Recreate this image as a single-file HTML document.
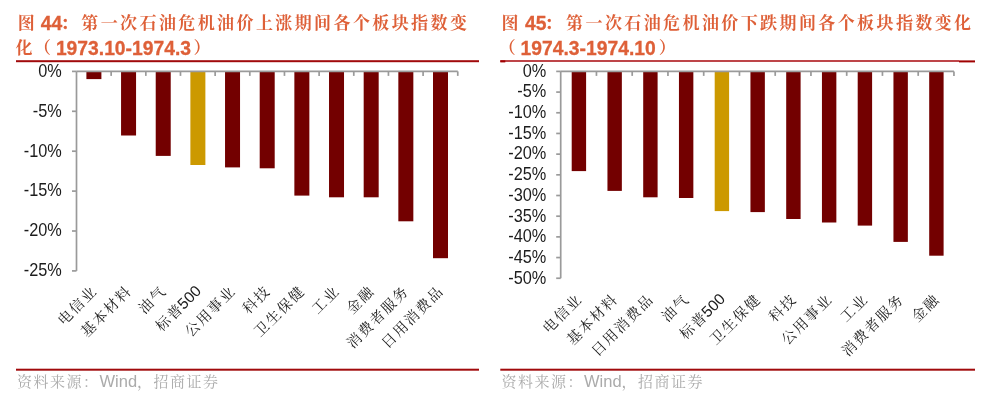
<!DOCTYPE html>
<html><head><meta charset="utf-8"><style>
html,body{margin:0;padding:0;background:#fff;width:988px;height:405px;overflow:hidden}
svg{display:block;filter:blur(0.35px)}
.tc{font-family:"Liberation Sans","Noto Serif CJK SC",serif;font-size:17.0px;letter-spacing:2.4px;font-weight:700;fill:#DE6038}
.tb{font-family:"Liberation Sans","Noto Serif CJK SC",sans-serif;font-size:19.3px;font-weight:bold;fill:#DE6038;stroke:#DE6038;stroke-width:0.3px}
.tcol{font-size:17.0px}
.yl{font-family:"Liberation Sans",sans-serif;font-size:16.3px;fill:#1C1C1C}
.xl{font-family:"Liberation Sans","Noto Serif CJK SC",serif;font-size:14.5px;letter-spacing:1.7px;fill:#1C1C1C}
.n{font-size:15.5px;letter-spacing:0}
.src{font-family:"Liberation Sans","Noto Serif CJK SC",serif;font-size:16.5px;fill:#ABABAB}
.src .c{font-size:15px;letter-spacing:1.5px}
</style></head><body>
<svg width="988" height="405" viewBox="0 0 988 405">
<rect width="988" height="405" fill="#fff"/>
<text class="tc" x="17.8" y="28.6">图</text>
<text class="tb" x="40.7" y="30.3">44</text>
<text class="tb tcol" x="60.8" y="28.6">：</text>
<text class="tc" x="81.3" y="28.6">第一次石油危机油价上涨期间各个板块指数变</text>
<text class="tc" x="15.6" y="54.2">化</text>
<text class="tc" x="34.0" y="54.2">（</text>
<text class="tb" x="55.9" y="54.9">1973.10-1974.3</text>
<text class="tc" x="193.6" y="54.2">）</text>
<text class="tc" x="501.6" y="28.6">图</text>
<text class="tb" x="525.1" y="30.3">45</text>
<text class="tb tcol" x="544.8" y="28.6">：</text>
<text class="tc" x="566.1" y="28.6">第一次石油危机油价下跌期间各个板块指数变化</text>
<text class="tc" x="498.8" y="54.2">（</text>
<text class="tb" x="520.6" y="54.9">1974.3-1974.10</text>
<text class="tc" x="658.8" y="54.2">）</text>
<rect x="16" y="60.2" width="463" height="2" fill="#A10A0C"/>
<rect x="500.3" y="60" width="458.7" height="2" fill="#BE4549"/>
<rect x="500.3" y="60.4" width="5" height="2" fill="#A00000"/>
<rect x="959" y="60.4" width="16" height="2" fill="#A00000"/>
<rect x="16" y="368.7" width="463" height="2" fill="#A10A0C"/>
<rect x="500.3" y="368.7" width="474.7" height="2" fill="#A10A0C"/>
<text class="src" x="17" y="387"><tspan class="c">资料来源：</tspan>Wind<tspan class="c">，招商证券</tspan></text>
<text class="src" x="501.5" y="387"><tspan class="c">资料来源：</tspan>Wind<tspan class="c">，招商证券</tspan></text>
<rect x="86.40" y="71.40" width="15.00" height="7.70" fill="#730000"/>
<rect x="121.06" y="71.40" width="15.00" height="64.10" fill="#730000"/>
<rect x="155.72" y="71.40" width="15.00" height="84.50" fill="#730000"/>
<rect x="190.38" y="71.40" width="15.00" height="93.60" fill="#CC9900"/>
<rect x="225.04" y="71.40" width="15.00" height="96.00" fill="#730000"/>
<rect x="259.70" y="71.40" width="15.00" height="96.90" fill="#730000"/>
<rect x="294.36" y="71.40" width="15.00" height="124.20" fill="#730000"/>
<rect x="329.02" y="71.40" width="15.00" height="125.90" fill="#730000"/>
<rect x="363.68" y="71.40" width="15.00" height="125.90" fill="#730000"/>
<rect x="398.34" y="71.40" width="15.00" height="149.90" fill="#730000"/>
<rect x="433.00" y="71.40" width="15.00" height="186.80" fill="#730000"/>
<line x1="76.50" y1="71.40" x2="76.50" y2="270.90" stroke="#9A9A9A" stroke-width="1.7"/>
<line x1="72.00" y1="71.40" x2="76.50" y2="71.40" stroke="#9A9A9A" stroke-width="1.7"/>
<text transform="translate(61.80 76.70) scale(1 1.07)" text-anchor="end" class="yl">0%</text>
<line x1="72.00" y1="111.30" x2="76.50" y2="111.30" stroke="#9A9A9A" stroke-width="1.7"/>
<text transform="translate(61.80 116.60) scale(1 1.07)" text-anchor="end" class="yl">-5%</text>
<line x1="72.00" y1="151.20" x2="76.50" y2="151.20" stroke="#9A9A9A" stroke-width="1.7"/>
<text transform="translate(61.80 156.50) scale(1 1.07)" text-anchor="end" class="yl">-10%</text>
<line x1="72.00" y1="191.10" x2="76.50" y2="191.10" stroke="#9A9A9A" stroke-width="1.7"/>
<text transform="translate(61.80 196.40) scale(1 1.07)" text-anchor="end" class="yl">-15%</text>
<line x1="72.00" y1="231.00" x2="76.50" y2="231.00" stroke="#9A9A9A" stroke-width="1.7"/>
<text transform="translate(61.80 236.30) scale(1 1.07)" text-anchor="end" class="yl">-20%</text>
<line x1="72.00" y1="270.90" x2="76.50" y2="270.90" stroke="#9A9A9A" stroke-width="1.7"/>
<text transform="translate(61.80 276.20) scale(1 1.07)" text-anchor="end" class="yl">-25%</text>
<line x1="76.50" y1="71.40" x2="457.76" y2="71.40" stroke="#9A9A9A" stroke-width="1.7"/>
<line x1="111.16" y1="71.40" x2="111.16" y2="75.90" stroke="#9A9A9A" stroke-width="1.7"/>
<line x1="145.82" y1="71.40" x2="145.82" y2="75.90" stroke="#9A9A9A" stroke-width="1.7"/>
<line x1="180.48" y1="71.40" x2="180.48" y2="75.90" stroke="#9A9A9A" stroke-width="1.7"/>
<line x1="215.14" y1="71.40" x2="215.14" y2="75.90" stroke="#9A9A9A" stroke-width="1.7"/>
<line x1="249.80" y1="71.40" x2="249.80" y2="75.90" stroke="#9A9A9A" stroke-width="1.7"/>
<line x1="284.46" y1="71.40" x2="284.46" y2="75.90" stroke="#9A9A9A" stroke-width="1.7"/>
<line x1="319.12" y1="71.40" x2="319.12" y2="75.90" stroke="#9A9A9A" stroke-width="1.7"/>
<line x1="353.78" y1="71.40" x2="353.78" y2="75.90" stroke="#9A9A9A" stroke-width="1.7"/>
<line x1="388.44" y1="71.40" x2="388.44" y2="75.90" stroke="#9A9A9A" stroke-width="1.7"/>
<line x1="423.10" y1="71.40" x2="423.10" y2="75.90" stroke="#9A9A9A" stroke-width="1.7"/>
<line x1="457.76" y1="71.40" x2="457.76" y2="75.90" stroke="#9A9A9A" stroke-width="1.7"/>
<text x="98.13" y="291.90" text-anchor="end" class="xl" transform="rotate(-45 98.13 291.90)">电信业</text>
<text x="132.79" y="291.90" text-anchor="end" class="xl" transform="rotate(-45 132.79 291.90)">基本材料</text>
<text x="167.45" y="291.90" text-anchor="end" class="xl" transform="rotate(-45 167.45 291.90)">油气</text>
<text x="202.11" y="291.90" text-anchor="end" class="xl" transform="rotate(-45 202.11 291.90)">标<tspan style="letter-spacing:0.5px">普</tspan><tspan class="n">500</tspan></text>
<text x="236.77" y="291.90" text-anchor="end" class="xl" transform="rotate(-45 236.77 291.90)">公用事业</text>
<text x="271.43" y="291.90" text-anchor="end" class="xl" transform="rotate(-45 271.43 291.90)">科技</text>
<text x="306.09" y="291.90" text-anchor="end" class="xl" transform="rotate(-45 306.09 291.90)">卫生保健</text>
<text x="340.75" y="291.90" text-anchor="end" class="xl" transform="rotate(-45 340.75 291.90)">工业</text>
<text x="375.41" y="291.90" text-anchor="end" class="xl" transform="rotate(-45 375.41 291.90)">金融</text>
<text x="410.07" y="291.90" text-anchor="end" class="xl" transform="rotate(-45 410.07 291.90)">消费者服务</text>
<text x="444.73" y="291.90" text-anchor="end" class="xl" transform="rotate(-45 444.73 291.90)">日用消费品</text>
<rect x="571.70" y="71.40" width="14.40" height="99.70" fill="#730000"/>
<rect x="607.45" y="71.40" width="14.40" height="119.50" fill="#730000"/>
<rect x="643.20" y="71.40" width="14.40" height="125.90" fill="#730000"/>
<rect x="678.95" y="71.40" width="14.40" height="126.60" fill="#730000"/>
<rect x="714.70" y="71.40" width="14.40" height="139.70" fill="#CC9900"/>
<rect x="750.45" y="71.40" width="14.40" height="140.70" fill="#730000"/>
<rect x="786.20" y="71.40" width="14.40" height="147.60" fill="#730000"/>
<rect x="821.95" y="71.40" width="14.40" height="151.10" fill="#730000"/>
<rect x="857.70" y="71.40" width="14.40" height="154.20" fill="#730000"/>
<rect x="893.45" y="71.40" width="14.40" height="170.50" fill="#730000"/>
<rect x="929.20" y="71.40" width="14.40" height="184.30" fill="#730000"/>
<line x1="560.70" y1="71.40" x2="560.70" y2="278.25" stroke="#9A9A9A" stroke-width="1.7"/>
<line x1="556.20" y1="71.40" x2="560.70" y2="71.40" stroke="#9A9A9A" stroke-width="1.7"/>
<text transform="translate(546.30 76.70) scale(1 1.07)" text-anchor="end" class="yl">0%</text>
<line x1="556.20" y1="92.09" x2="560.70" y2="92.09" stroke="#9A9A9A" stroke-width="1.7"/>
<text transform="translate(546.30 97.39) scale(1 1.07)" text-anchor="end" class="yl">-5%</text>
<line x1="556.20" y1="112.77" x2="560.70" y2="112.77" stroke="#9A9A9A" stroke-width="1.7"/>
<text transform="translate(546.30 118.07) scale(1 1.07)" text-anchor="end" class="yl">-10%</text>
<line x1="556.20" y1="133.45" x2="560.70" y2="133.45" stroke="#9A9A9A" stroke-width="1.7"/>
<text transform="translate(546.30 138.75) scale(1 1.07)" text-anchor="end" class="yl">-15%</text>
<line x1="556.20" y1="154.14" x2="560.70" y2="154.14" stroke="#9A9A9A" stroke-width="1.7"/>
<text transform="translate(546.30 159.44) scale(1 1.07)" text-anchor="end" class="yl">-20%</text>
<line x1="556.20" y1="174.82" x2="560.70" y2="174.82" stroke="#9A9A9A" stroke-width="1.7"/>
<text transform="translate(546.30 180.12) scale(1 1.07)" text-anchor="end" class="yl">-25%</text>
<line x1="556.20" y1="195.51" x2="560.70" y2="195.51" stroke="#9A9A9A" stroke-width="1.7"/>
<text transform="translate(546.30 200.81) scale(1 1.07)" text-anchor="end" class="yl">-30%</text>
<line x1="556.20" y1="216.19" x2="560.70" y2="216.19" stroke="#9A9A9A" stroke-width="1.7"/>
<text transform="translate(546.30 221.50) scale(1 1.07)" text-anchor="end" class="yl">-35%</text>
<line x1="556.20" y1="236.88" x2="560.70" y2="236.88" stroke="#9A9A9A" stroke-width="1.7"/>
<text transform="translate(546.30 242.18) scale(1 1.07)" text-anchor="end" class="yl">-40%</text>
<line x1="556.20" y1="257.56" x2="560.70" y2="257.56" stroke="#9A9A9A" stroke-width="1.7"/>
<text transform="translate(546.30 262.87) scale(1 1.07)" text-anchor="end" class="yl">-45%</text>
<line x1="556.20" y1="278.25" x2="560.70" y2="278.25" stroke="#9A9A9A" stroke-width="1.7"/>
<text transform="translate(546.30 283.55) scale(1 1.07)" text-anchor="end" class="yl">-50%</text>
<line x1="560.70" y1="71.40" x2="953.95" y2="71.40" stroke="#9A9A9A" stroke-width="1.7"/>
<line x1="596.45" y1="71.40" x2="596.45" y2="75.90" stroke="#9A9A9A" stroke-width="1.7"/>
<line x1="632.20" y1="71.40" x2="632.20" y2="75.90" stroke="#9A9A9A" stroke-width="1.7"/>
<line x1="667.95" y1="71.40" x2="667.95" y2="75.90" stroke="#9A9A9A" stroke-width="1.7"/>
<line x1="703.70" y1="71.40" x2="703.70" y2="75.90" stroke="#9A9A9A" stroke-width="1.7"/>
<line x1="739.45" y1="71.40" x2="739.45" y2="75.90" stroke="#9A9A9A" stroke-width="1.7"/>
<line x1="775.20" y1="71.40" x2="775.20" y2="75.90" stroke="#9A9A9A" stroke-width="1.7"/>
<line x1="810.95" y1="71.40" x2="810.95" y2="75.90" stroke="#9A9A9A" stroke-width="1.7"/>
<line x1="846.70" y1="71.40" x2="846.70" y2="75.90" stroke="#9A9A9A" stroke-width="1.7"/>
<line x1="882.45" y1="71.40" x2="882.45" y2="75.90" stroke="#9A9A9A" stroke-width="1.7"/>
<line x1="918.20" y1="71.40" x2="918.20" y2="75.90" stroke="#9A9A9A" stroke-width="1.7"/>
<line x1="953.95" y1="71.40" x2="953.95" y2="75.90" stroke="#9A9A9A" stroke-width="1.7"/>
<text x="583.18" y="299.95" text-anchor="end" class="xl" transform="rotate(-45 583.18 299.95)">电信业</text>
<text x="618.93" y="299.95" text-anchor="end" class="xl" transform="rotate(-45 618.93 299.95)">基本材料</text>
<text x="654.68" y="299.95" text-anchor="end" class="xl" transform="rotate(-45 654.68 299.95)">日用消费品</text>
<text x="690.43" y="299.95" text-anchor="end" class="xl" transform="rotate(-45 690.43 299.95)">油气</text>
<text x="726.18" y="299.95" text-anchor="end" class="xl" transform="rotate(-45 726.18 299.95)">标<tspan style="letter-spacing:0.5px">普</tspan><tspan class="n">500</tspan></text>
<text x="761.93" y="299.95" text-anchor="end" class="xl" transform="rotate(-45 761.93 299.95)">卫生保健</text>
<text x="797.68" y="299.95" text-anchor="end" class="xl" transform="rotate(-45 797.68 299.95)">科技</text>
<text x="833.43" y="299.95" text-anchor="end" class="xl" transform="rotate(-45 833.43 299.95)">公用事业</text>
<text x="869.18" y="299.95" text-anchor="end" class="xl" transform="rotate(-45 869.18 299.95)">工业</text>
<text x="904.93" y="299.95" text-anchor="end" class="xl" transform="rotate(-45 904.93 299.95)">消费者服务</text>
<text x="940.68" y="299.95" text-anchor="end" class="xl" transform="rotate(-45 940.68 299.95)">金融</text>
</svg>
</body></html>
